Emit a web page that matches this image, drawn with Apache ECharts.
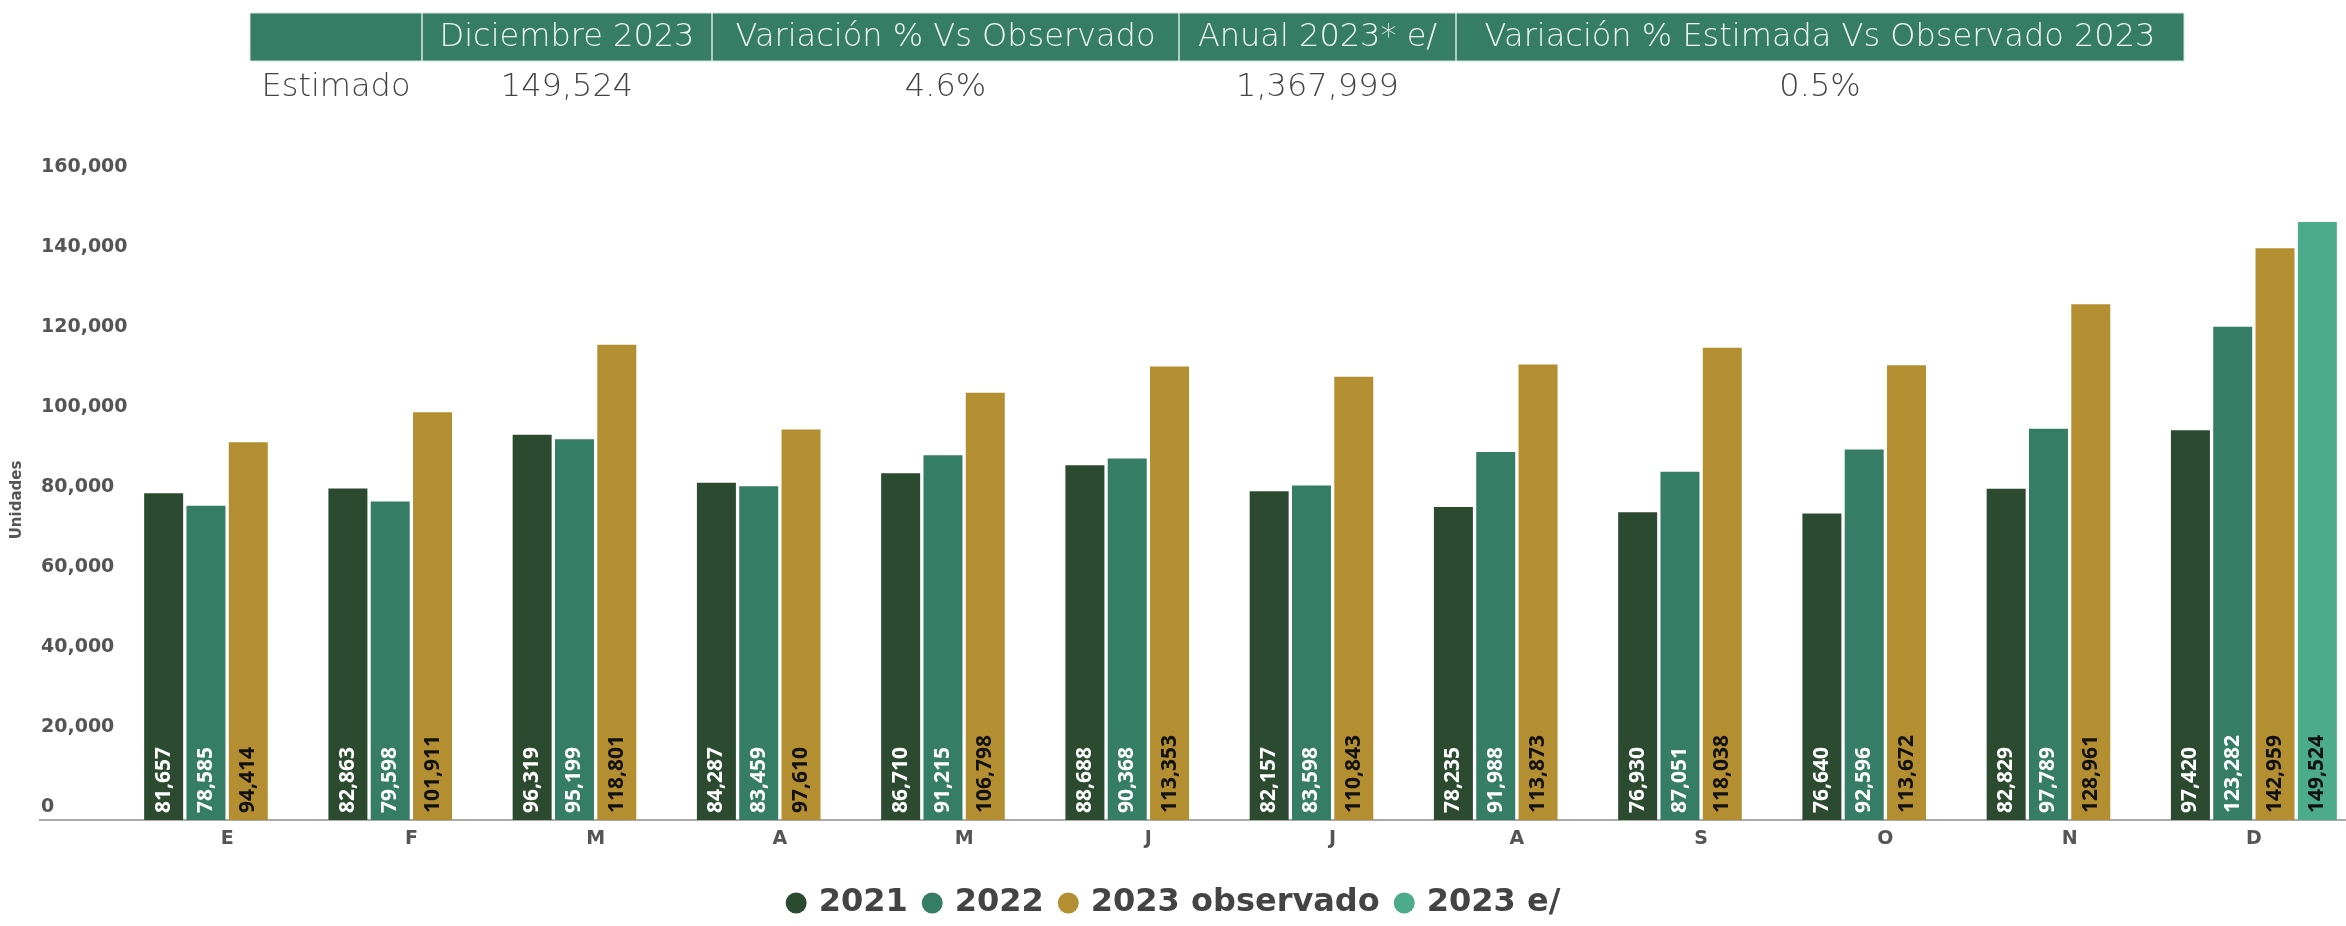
<!DOCTYPE html>
<html>
<head>
<meta charset="utf-8">
<script src="https://cdn.jsdelivr.net/npm/echarts@6/dist/echarts.min.js"></script>
<style>
  html, body { margin: 0; padding: 0; background: #ffffff; }
  #chart1 { width: 2346px; height: 926px; }
</style>
</head>
<body>
<div id="chart1"></div>
<script>
var myChart = echarts.init(document.getElementById('chart1'))

var meses = ['E', 'F', 'M', 'A', 'M', 'J', 'J', 'A', 'S', 'O', 'N', 'D']
var v2021 = [81657, 82863, 96319, 84287, 86710, 88688, 82157, 78235, 76930, 76640, 82829, 97420]
var v2022 = [78585, 79598, 95199, 83459, 91215, 90368, 83598, 91988, 87051, 92596, 97789, 123282]
var v2023obs = [94414, 101911, 118801, 97610, 106798, 113353, 110843, 113873, 118038, 113672, 128961, 142959]
var v2023est = [null, null, null, null, null, null, null, null, null, null, null, 149524]

// tabla de arriba
var tablaHead = ['', 'Diciembre 2023', 'Variación % Vs Observado', 'Anual 2023* e/', 'Variación % Estimada Vs Observado 2023']
var tablaFila = ['Estimado', '149,524', '4.6%', '1,367,999', '0.5%']
var colEdges = [250, 422, 712, 1179, 1456, 2184]

var fmt = function (p) {
    return Number(p.value).toLocaleString('en-US')
}

function labelCfg(color) {
    return {
        show: true,
        position: 'insideBottom',
        rotate: 90,
        align: 'left',
        verticalAlign: 'middle',
        distance: 7,
        color: color,
        fontFamily: 'Open Sans',
        fontWeight: 'bold',
        fontSize: 21,
        formatter: fmt
    }
}

var graficos = []
graficos.push({
    type: 'rect',
    shape: { x: colEdges[0], y: 13, width: colEdges[5] - colEdges[0], height: 48 },
    style: { fill: '#367d66', stroke: '#cfe3da', lineWidth: 1 }
})
for (var i = 0; i < tablaHead.length; i++) {
    var cx = (colEdges[i] + colEdges[i + 1]) / 2
    if (i > 0) {
        graficos.push({
            type: 'line',
            shape: { x1: colEdges[i], y1: 13, x2: colEdges[i], y2: 61 },
            style: { stroke: '#d8e8e0', lineWidth: 1.5 }
        })
    }
    graficos.push({
        type: 'text',
        x: cx, y: 38,
        style: {
            text: tablaHead[i],
            fill: '#eef5f1',
            font: '200 32px "DejaVu Sans"',
            align: 'center',
            verticalAlign: 'middle'
        }
    })
    graficos.push({
        type: 'text',
        x: cx, y: 88,
        style: {
            text: tablaFila[i],
            fill: '#444444',
            font: '200 32px "DejaVu Sans"',
            align: 'center',
            verticalAlign: 'middle'
        }
    })
}

var option = {
    backgroundColor: '#ffffff',
    animation: false,
    color: ['#2c4a2f', '#367d66', '#b48f31', '#4bab8a'],
    grid: {
        left: 135,
        right: -7,
        top: 180,
        bottom: 106
    },
    legend: {
        bottom: 2,
        left: 'center',
        icon: 'circle',
        itemWidth: 21,
        itemHeight: 21,
        itemGap: 14,
        textStyle: {
            color: '#444444',
            fontFamily: 'DejaVu Sans',
            fontWeight: 'bold',
            fontSize: 32,
            padding: [0, 0, 0, 7]
        },
        data: ['2021', '2022', '2023 observado', '2023 e/']
    },
    xAxis: {
        type: 'category',
        data: meses,
        axisTick: { show: false },
        axisLine: { lineStyle: { color: '#aaaaaa', width: 2 } },
        axisLabel: {
            color: '#555555',
            fontFamily: 'DejaVu Sans',
            fontWeight: 'bold',
            fontSize: 19,
            margin: 10
        }
    },
    yAxis: {
        type: 'value',
        min: 0,
        max: 160000,
        interval: 20000,
        name: 'Unidades',
        nameLocation: 'middle',
        nameGap: 110,
        nameTextStyle: {
            color: '#555555',
            fontFamily: 'DejaVu Sans',
            fontWeight: 'bold',
            fontSize: 15
        },
        splitLine: { show: false },
        axisLine: { show: false },
        axisTick: { show: false },
        axisLabel: {
            align: 'left',
            verticalAlign: 'bottom',
            margin: 94,
            padding: [0, 0, 3, 0],
            color: '#555555',
            fontFamily: 'DejaVu Sans',
            fontWeight: 'bold',
            fontSize: 19,
            formatter: function (v) { return v.toLocaleString('en-US') }
        }
    },
    series: [
        { name: '2021', type: 'bar', barWidth: 39, barGap: '8.5%', data: v2021, label: labelCfg('#ffffff') },
        { name: '2022', type: 'bar', barWidth: 39, barGap: '8.5%', data: v2022, label: labelCfg('#ffffff') },
        { name: '2023 observado', type: 'bar', barWidth: 39, barGap: '8.5%', data: v2023obs, label: labelCfg('#111111') },
        { name: '2023 e/', type: 'bar', barWidth: 39, barGap: '8.5%', data: v2023est, label: labelCfg('#111111') }
    ],
    graphic: graficos
}
myChart.setOption(option)

// la línea del eje se extiende bajo las etiquetas
var y0 = myChart.convertToPixel({ yAxisIndex: 0 }, 0)
graficos.push({
    type: 'line',
    shape: { x1: 39, y1: y0, x2: 135, y2: y0 },
    style: { stroke: '#aaaaaa', lineWidth: 2 }
})
myChart.setOption({ graphic: graficos })
</script>
</body>
</html>
